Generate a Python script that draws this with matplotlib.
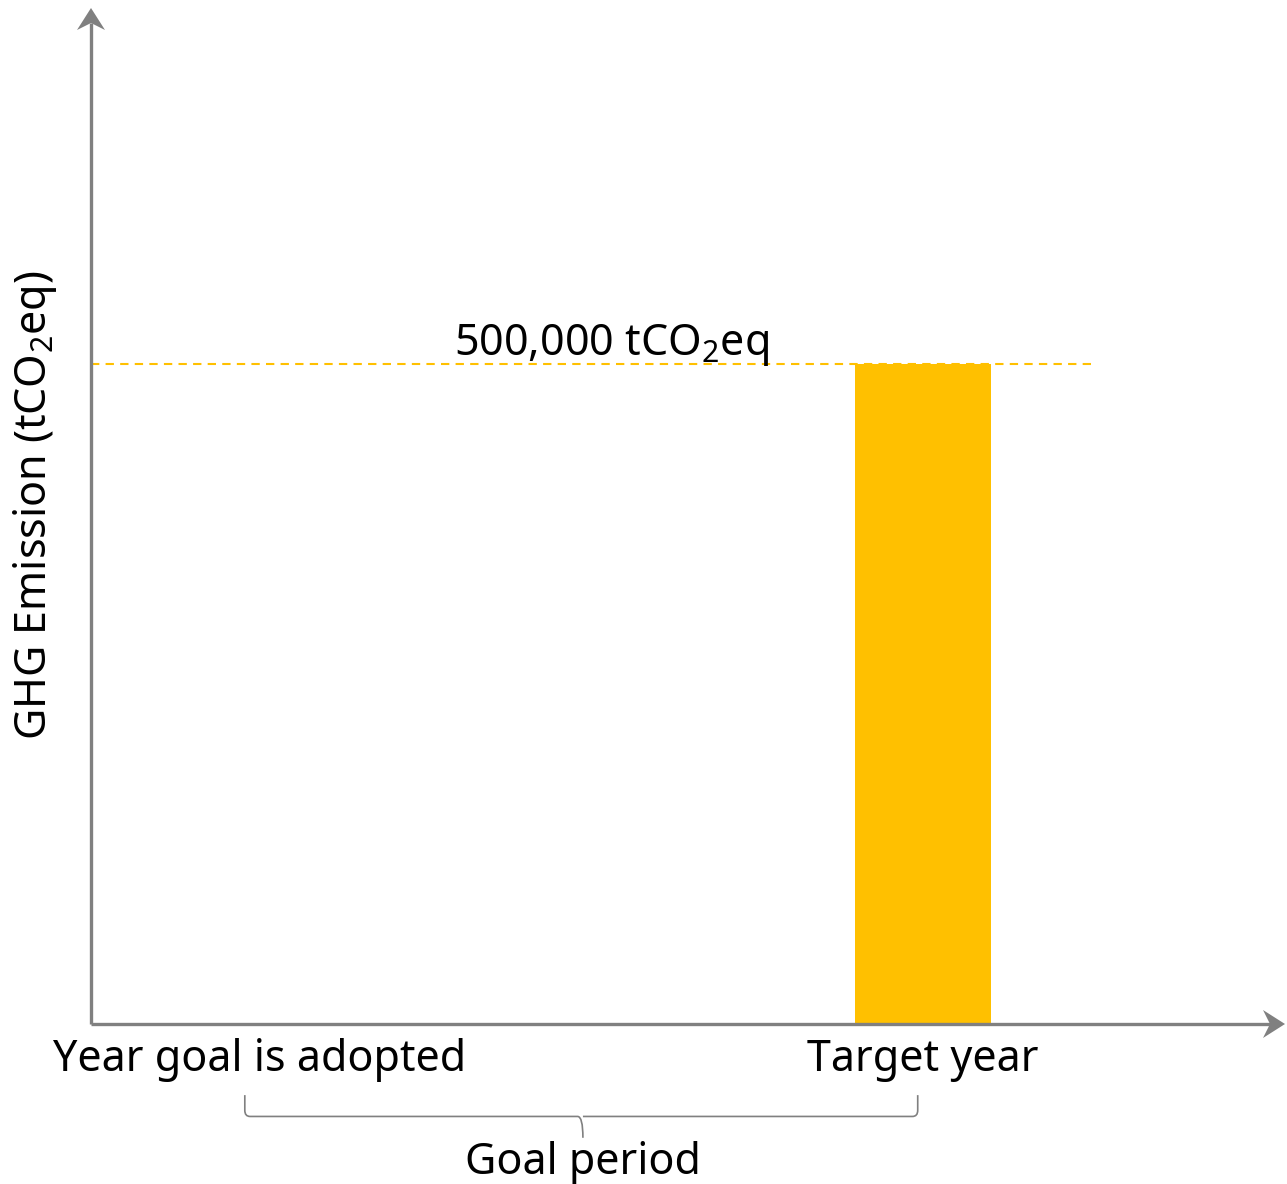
import matplotlib
matplotlib.use('Agg')
import matplotlib.pyplot as plt  # NOQA
import matplotlib.transforms as mtransforms  # NOQA
from matplotlib.path import Path  # NOQA
from matplotlib.patches import PathPatch, Polygon  # NOQA

# data
categories = ['Year goal is adopted', 'Target year']
positions = [0, 1]
emissions = [0, 500000]
target_label = r'500,000 tCO$_2$eq'
y_label = r'GHG Emission (tCO$_2$eq)'
period_label = 'Goal period'

GOLD = '#FFC000'
GREY = '#808080'
FONT = 'Noto Sans'
FS = 31

plt.rcParams['font.family'] = [FONT, 'DejaVu Sans']
plt.rcParams['mathtext.fontset'] = 'custom'
plt.rcParams['mathtext.rm'] = FONT
plt.rcParams['mathtext.it'] = FONT

W, H = 1287, 1184
fig = plt.figure(figsize=(W / 100., H / 100.), dpi=100)
x0, y0 = 91, 1024          # axis origin in pixels
ax = fig.add_axes([x0 / W, (H - y0) / H, (1285 - x0) / W, (y0 - 8) / H])

ymax = emissions[1] * 1016 / 660.
ax.set_ylim(0, ymax)
ax.set_xlim(-0.255, 1.546)
for s in ax.spines.values():
    s.set_visible(False)
ax.set_xticks([])
ax.set_yticks([])
ax.patch.set_alpha(0)

# the bar
ax.bar(positions[1], emissions[1], width=0.204, color=GOLD, zorder=2)

# dashed reference line
ax.hlines(emissions[1], -0.255, 1.261, colors=GOLD, linestyles=(0, (4, 3)),
          linewidth=1.5, zorder=1)
ax.text(0.53, emissions[1] * 1.013, target_label, ha='center',
        va='baseline', fontsize=FS)


def stealth_head(tip, angle):
    """notched arrow head (sizes in inches) with its tip at `tip` in axes
    fraction, pointing along `angle` degrees"""
    pts = [(0, 0), (-0.22, 0.14), (-0.15, 0), (-0.22, -0.14)]
    trans = (mtransforms.Affine2D().rotate_deg(angle) + fig.dpi_scale_trans
             + mtransforms.ScaledTranslation(tip[0], tip[1], ax.transAxes))
    ax.add_patch(Polygon(pts, closed=True, transform=trans, color=GREY,
                         lw=0, clip_on=False, zorder=3))


# axes with arrows
ax.plot([0, 0], [0, 0.985], transform=ax.transAxes, color=GREY, lw=2.4,
        clip_on=False, solid_capstyle='butt', zorder=3)
ax.plot([0, 0.99], [0, 0], transform=ax.transAxes, color=GREY, lw=2.4,
        clip_on=False, solid_capstyle='butt', zorder=3)
stealth_head((0, 1), 90)
stealth_head((1, 0), 0)

# category labels
tr = ax.get_xaxis_transform()
for pos, cat in zip(positions, categories):
    ax.text(pos, -0.046, cat, transform=tr, ha='center', va='baseline',
            fontsize=FS, clip_on=False)

# brace under the goal period
bl, br, bm = -0.023, 0.992, 0.487
yt, yb, yc = -0.070, -0.091, -0.112
r = 0.008
verts = [(bl, yt), (bl, yb + 0.006), (bl, yb), (bl + r, yb),
         (bm - r, yb), (bm, yb), (bm, yc),
         (bm, yb), (bm + r, yb),
         (br - r, yb), (br, yb), (br, yb + 0.006), (br, yt)]
codes = [Path.MOVETO, Path.LINETO, Path.CURVE3, Path.CURVE3,
         Path.LINETO, Path.CURVE3, Path.CURVE3,
         Path.MOVETO, Path.LINETO,
         Path.LINETO, Path.CURVE3, Path.CURVE3, Path.LINETO]
ax.add_patch(PathPatch(Path(verts, codes), transform=tr, fill=False,
                       edgecolor=GREY, lw=1.2, clip_on=False))
ax.text(bm, -0.148, period_label, transform=tr, ha='center', va='baseline',
        fontsize=FS, clip_on=False)

fig.text(35 / W, 1 - 505 / H, y_label, rotation=90, ha='center',
         va='center', fontsize=FS)

fig.savefig('out.png', dpi=100)
plt.close(fig)
